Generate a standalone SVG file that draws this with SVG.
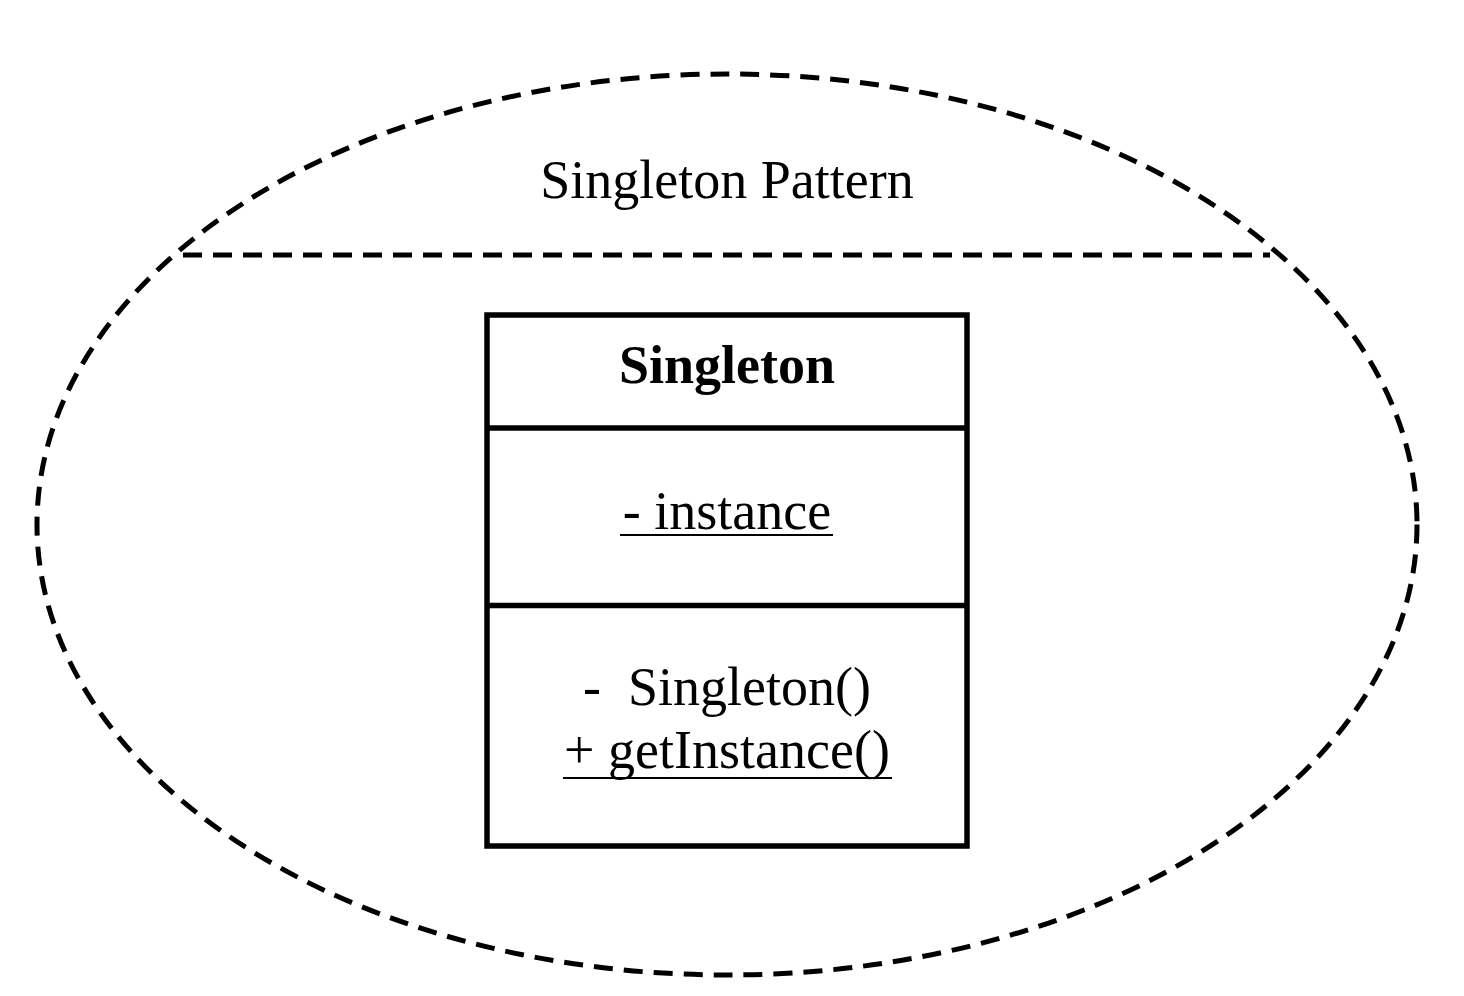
<svg xmlns="http://www.w3.org/2000/svg" width="1464" height="996" viewBox="0 0 1464 996">
<style>
.dash{fill:none;stroke:#000;stroke-width:5;stroke-dasharray:19 11}
.box{fill:#fff;stroke:#000;stroke-width:5.5}
.t{font-family:"Liberation Serif","Times New Roman",serif;font-size:54px;fill:#000;text-anchor:middle}
.b{font-weight:bold}
.u{stroke:#000;stroke-width:2}
</style>
<rect width="1464" height="996" fill="#fff"/>
<g id="pattern">
<ellipse class="dash" cx="727" cy="524.5" rx="690" ry="450.5"/>
<line class="dash" x1="183" y1="255" x2="1270" y2="255"/>
<text class="t" x="727" y="198">Singleton Pattern</text>
</g>
<g id="singleton">
<rect class="box" x="487" y="315" width="480" height="531"/>
<line class="box" x1="487" y1="428" x2="967" y2="428"/>
<line class="box" x1="487" y1="605.5" x2="967" y2="605.5"/>
<text class="t b" x="727" y="383">Singleton</text>
<text class="t" x="727" y="529">- instance</text>
<line class="u" x1="620" y1="535" x2="833" y2="535"/>
<text class="t" x="727" y="705" xml:space="preserve">-  Singleton()</text>
<text class="t" x="727" y="768">+ getInstance()</text>
<line class="u" x1="563" y1="778" x2="892" y2="778"/>
</g>
<g id="connectors"/>
</svg>
